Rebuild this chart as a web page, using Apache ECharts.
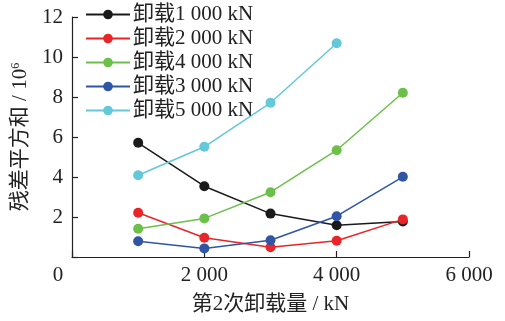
<!DOCTYPE html>
<html><head><meta charset="utf-8">
<script src="https://cdn.jsdelivr.net/npm/echarts@6/dist/echarts.min.js"></script>
<style>html,body{margin:0;padding:0;background:#fff}#c{width:505px;height:321px}</style>
</head><body><div id="c"></div>
<script>
const xValues = [1000, 2000, 3000, 4000, 5000];
const seriesNames = ['卸载1 000 kN', '卸载2 000 kN', '卸载4 000 kN', '卸载3 000 kN', '卸载5 000 kN'];
const s1000 = [5.71, 3.54, 2.17, 1.59, 1.78];
const s2000 = [2.21, 0.96, 0.49, 0.81, 1.88];
const s4000 = [1.41, 1.93, 3.24, 5.34, 8.21];
const s3000 = [0.79, 0.43, 0.84, 2.04, 4.01];
const s5000 = [4.09, 5.51, 7.71, 10.69];
const colors = ['#1a1a1a', '#e8262a', '#6cc04a', '#2f55a4', '#63c8d8'];
const xTicks = [0, 2000, 4000, 6000];
const yTicks = [0, 2, 4, 6, 8, 10, 12];

const FONT = "'Liberation Serif', 'Times New Roman', 'Noto Sans CJK SC', serif";
const FS = 21;
const allData = [s1000, s2000, s4000, s3000, s5000];
const fmtX = v => v === 0 ? '{z|0}' : String(v).replace(/(\d)(?=(\d{3})+$)/g, '$1 ');

const chart = echarts.init(document.getElementById('c'), null, {renderer: 'canvas'});
chart.setOption({
  animation: false,
  backgroundColor: '#fff',
  textStyle: {fontFamily: FONT},
  grid: {left: 72, right: 36, top: 17, bottom: 64, containLabel: false},
  legend: {
    orient: 'vertical', left: 85, top: 4, padding: 0, itemWidth: 44, itemHeight: 12, itemGap: 3,
    data: seriesNames,
    textStyle: {fontFamily: FONT, fontSize: FS, color: '#222', padding: [0, 0, 0, -2], lineHeight: 21}
  },
  xAxis: {
    type: 'value', min: xTicks[0], max: xTicks[xTicks.length - 1], interval: 2000,
    name: '第2次卸载量 / kN', nameLocation: 'middle', nameGap: 37,
    nameTextStyle: {fontFamily: FONT, fontSize: FS, color: '#222'},
    axisLine: {show: true, lineStyle: {color: '#222', width: 1.2}},
    axisTick: {show: true, inside: true, length: 6, lineStyle: {color: '#222', width: 1.2}},
    axisLabel: {fontFamily: FONT, fontSize: FS, color: '#222', margin: 8, formatter: fmtX,
      rich: {z: {fontFamily: FONT, fontSize: FS, color: '#222', padding: [0, 28, 0, 0]}}},
    splitLine: {show: false}
  },
  yAxis: {
    type: 'value', min: yTicks[0], max: yTicks[yTicks.length - 1], interval: 2,
    name: '残差平方和 / 10{s|6}', nameLocation: 'middle', nameGap: 38, nameRotate: 90,
    nameTextStyle: {fontFamily: FONT, fontSize: FS, color: '#222',
      rich: {s: {fontFamily: FONT, fontSize: 12, color: '#222', verticalAlign: 'top', padding: [0, 0, 8, 0]}}},
    axisLine: {show: true, lineStyle: {color: '#222', width: 1.2}},
    axisTick: {show: true, inside: true, length: 6, lineStyle: {color: '#222', width: 1.2}},
    axisLabel: {fontFamily: FONT, fontSize: FS, color: '#222', margin: 9,
      formatter: v => v === 0 ? '' : String(v)},
    splitLine: {show: false}
  },
  series: seriesNames.map((n, i) => ({
    name: n, type: 'line',
    data: allData[i].map((v, j) => [xValues[j], v]),
    symbol: 'circle', symbolSize: 10,
    itemStyle: {color: colors[i]},
    lineStyle: {color: colors[i], width: 1.5}
  }))
});
</script></body></html>
